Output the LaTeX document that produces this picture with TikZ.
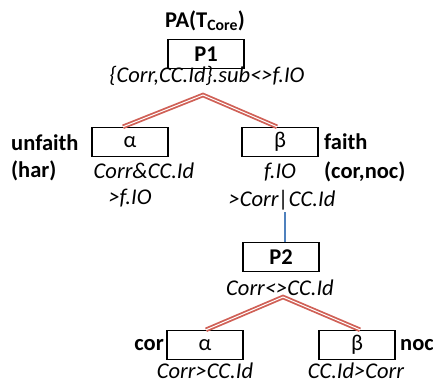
\documentclass[tikz,border=0pt]{standalone}
\usepackage{fontspec}
\setmainfont{Carlito}
\definecolor{treered}{RGB}{208,96,86}
\definecolor{lineblue}{RGB}{79,129,189}
\tikzset{
  base/.style={inner sep=0pt, font=\fontsize{22.5}{26}\selectfont},
  box/.style={base, draw=black, line width=1.4pt, minimum width=76pt, minimum height=29pt},
  lab/.style={base, font=\fontsize{22.5}{26}\selectfont\itshape},
  blab/.style={base, font=\fontsize{22.5}{26}\selectfont\bfseries},
  branch/.style={draw=treered, line width=1.8pt, double=white, double distance=1pt},
  link/.style={draw=lineblue, line width=1.2pt}
}
\begin{document}
\begin{tikzpicture}[x=1pt,y=-1pt]
\useasboundingbox (0,0) rectangle (433,381);
% top
\node[blab] (title) at (205,21) {PA(T\textsubscript{Core})};
\node[box, font=\fontsize{22.5}{26}\selectfont\bfseries] (p1) at (206,54) {P1};
\node[lab] (p1lab) at (207,76) {\{Corr,CC.Id\}.sub<>f.IO};
% level 1
\node[box] (a1) at (130,142) {α};
\node[box] (b1) at (280,142) {β};
\node[blab, anchor=west] (unfaith) at (11,143) {unfaith};
\node[blab, anchor=west] (har) at (11,171) {(har)};
\node[lab] (a1lab) at (144,171) {Corr\&CC.Id};
\node[lab] (a1lab2) at (130,198) {>f.IO};
\node[blab, anchor=west] (faith) at (324,142) {faith};
\node[blab, anchor=west] (cornoc) at (324,172) {(cor,noc)};
\node[lab] (b1lab) at (280,172) {f.IO};
\node[lab] (b1lab2) at (282,200) {>Corr|CC.Id};
% level 2
\node[box, font=\fontsize{22.5}{26}\selectfont\bfseries] (p2) at (281,257) {P2};
\node[lab] (p2lab) at (280,288) {Corr<>CC.Id};
\node[box] (a2) at (205,345) {α};
\node[box] (b2) at (357,345) {β};
\node[blab, anchor=east] (cor) at (164,345) {cor};
\node[blab, anchor=west] (noc) at (400,345) {noc};
\node[lab, anchor=base] (a2lab) at (205,378) {Corr>CC.Id};
\node[lab, anchor=base] (b2lab) at (356,378) {CC.Id>Corr};
% connectors
\coordinate (apex1) at (203,95);
\coordinate (apex2) at (283,297);
\coordinate (blue) at (285,212);
\draw[branch] ([xshift=-7pt]a1.north) -- (apex1) -- ([xshift=-3pt]b1.north);
\draw[branch] ([xshift=1pt]a2.north) -- (apex2) -- ([xshift=3pt]b2.north);
\draw[link] (blue) -- (blue |- p2.north);
\end{tikzpicture}
\end{document}
